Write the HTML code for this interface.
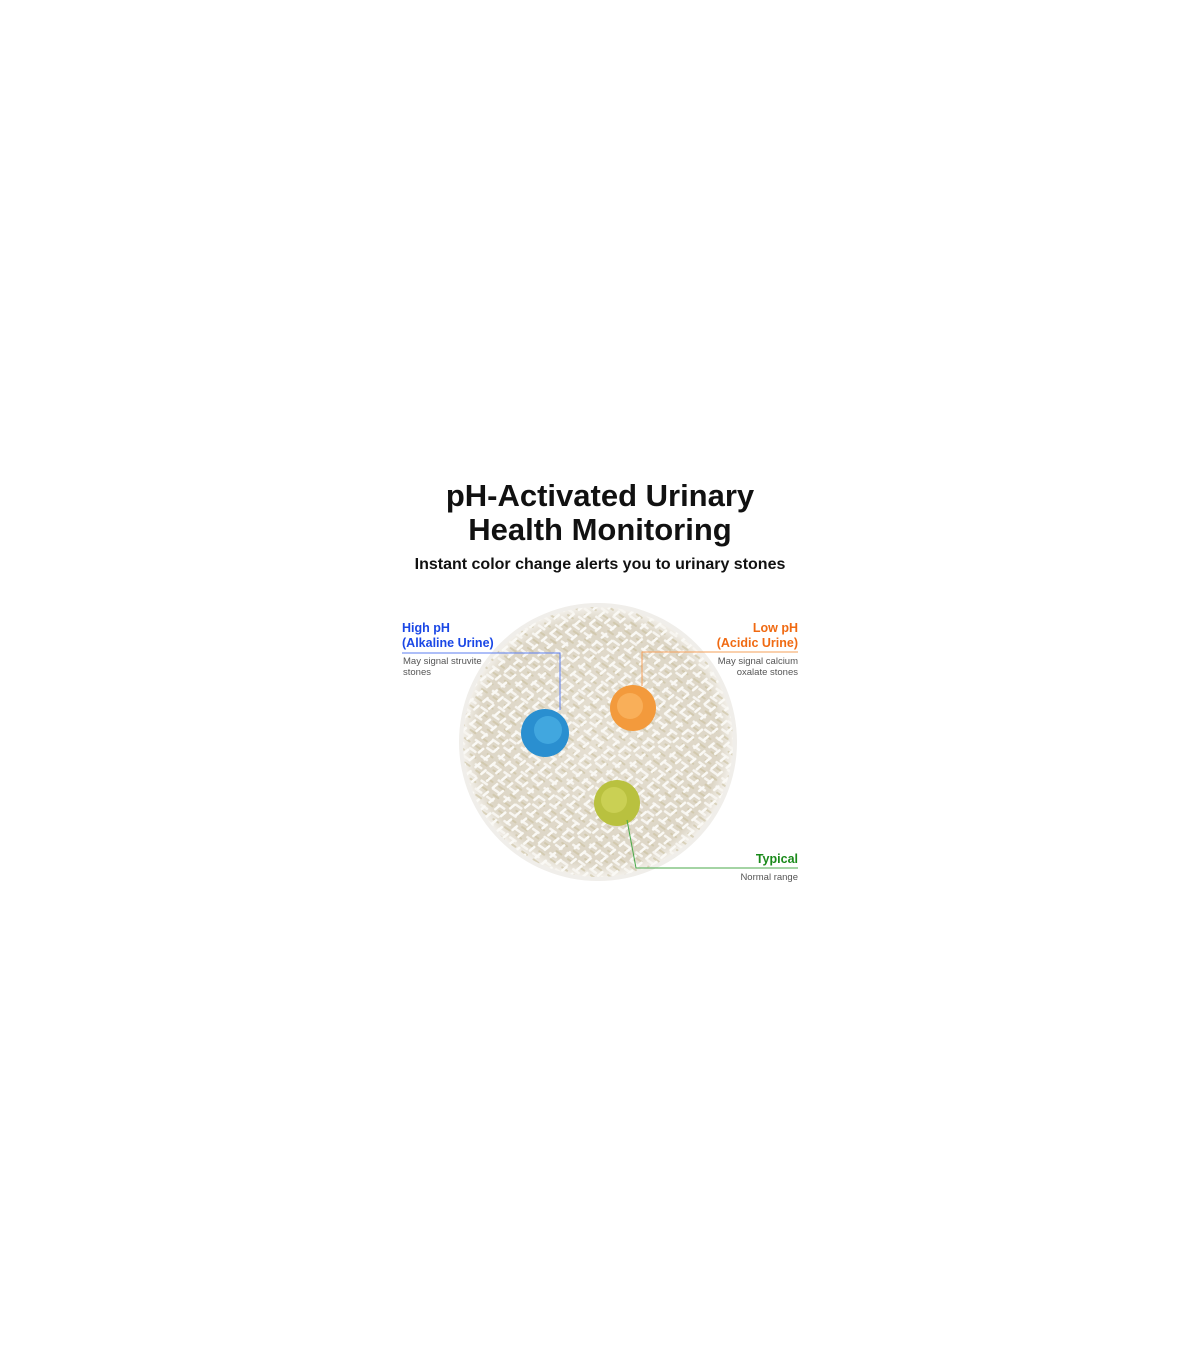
<!DOCTYPE html>
<html><head><style>
body{margin:0;width:1200px;height:1372px;background:#fff;position:relative;font-family:"Liberation Sans",sans-serif;overflow:hidden}
.t{position:absolute;left:0;width:1200px;text-align:center;font-weight:bold;color:#111}
.l{position:absolute;font-weight:bold;font-size:12.5px;line-height:15px}
.s{position:absolute;font-size:9.5px;line-height:11px;color:#555}
</style></head><body>
<div class="t" style="top:479px;font-size:31px;line-height:34px">pH-Activated Urinary<br>Health Monitoring</div>
<div class="t" style="top:556px;font-size:16px">Instant color change alerts you to urinary stones</div>
<svg style="position:absolute;left:0;top:0" width="1200" height="1372">
<defs>
<radialGradient id="g" cx="50%" cy="50%" r="50%">
<stop offset="0" stop-color="#e6e0d3"/><stop offset="0.9" stop-color="#ddd6c6"/><stop offset="1" stop-color="#f2efe9"/></radialGradient>
<pattern id="p" width="14" height="10" patternUnits="userSpaceOnUse" patternTransform="rotate(35)">
<rect width="14" height="10" fill="none"/><rect x="1" y="2" width="9" height="2.5" rx="1" fill="#f7f5f0"/><rect x="5" y="7" width="8" height="2" rx="1" fill="#c9bf9f" opacity=".6"/></pattern>
<pattern id="p2" width="12" height="9" patternUnits="userSpaceOnUse" patternTransform="rotate(-40)">
<rect x="2" y="1" width="8" height="2.5" rx="1" fill="#faf9f5"/></pattern>
</defs>
<circle cx="598" cy="742" r="139" fill="#f0eeea"/>
<circle cx="598" cy="742" r="135" fill="url(#g)"/>
<circle cx="598" cy="742" r="135" fill="url(#p)"/>
<circle cx="598" cy="742" r="135" fill="url(#p2)"/>
<circle cx="545" cy="733" r="24" fill="#2a8fd0"/>
<circle cx="548" cy="730" r="14" fill="#4bb0e6" opacity=".7"/>
<circle cx="633" cy="708" r="23" fill="#f39a3c"/>
<circle cx="630" cy="706" r="13" fill="#fbb865" opacity=".7"/>
<circle cx="617" cy="803" r="23" fill="#b9c13f"/>
<circle cx="614" cy="800" r="13" fill="#d1d65e" opacity=".7"/>
<polyline points="402,653 560,653 560,710" fill="none" stroke="#5b7ef0" stroke-width="1"/>
<polyline points="798,652 642,652 642,686" fill="none" stroke="#f5a05a" stroke-width="1"/>
<polyline points="627,820 636,868 798,868" fill="none" stroke="#4aaa4a" stroke-width="1"/>
</svg>
<div class="l" style="left:402px;top:621px;color:#1a47e6">High pH<br>(Alkaline Urine)</div>
<div class="s" style="left:403px;top:656px">May signal struvite<br>stones</div>
<div class="l" style="right:402px;top:621px;color:#f06a12;text-align:right">Low pH<br>(Acidic Urine)</div>
<div class="s" style="right:402px;top:656px;text-align:right">May signal calcium<br>oxalate stones</div>
<div class="l" style="right:402px;top:852px;color:#1a8a1a;text-align:right">Typical</div>
<div class="s" style="right:402px;top:872px;text-align:right">Normal range</div>
</body></html>
